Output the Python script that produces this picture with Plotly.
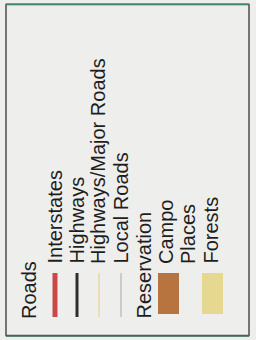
import plotly.graph_objects as go

# --- data ---
road_title = "Roads"
road_labels = ["Interstates", "Highways", "Highways/Major Roads", "Local Roads"]
road_colors = ["#c9484a", "#2e2e2e", "#ead7a8", "#a8a8a8"]
road_widths = [5, 3, 1.5, 1]
area_title = "Reservation"
area_labels = ["Campo", "Places", "Forests"]
area_colors = ["#b8743e", None, "#e7d891"]

# --- layout constants (pixel space) ---
W, H = 256, 340
FONT = "Liberation Sans, Arial, sans-serif"
col0 = 29
road_x = [54, 76, 98, 120]
res_x = 143
area_x = [166, 188, 210]
text_bottom = 266
title_bottom = 321
sym_top, sym_bot = 273, 317

fig = go.Figure()

def label(x, ybot, txt):
    fig.add_annotation(x=x, y=ybot, text=txt, textangle=-90, showarrow=False,
                       xanchor="center", yanchor="bottom", xref="x", yref="y",
                       font=dict(family=FONT, size=20, color="#1e1e1e"))

label(col0, title_bottom, road_title)
for x, t, c, w in zip(road_x, road_labels, road_colors, road_widths):
    label(x, text_bottom, t)
    fig.add_trace(go.Scatter(x=[x + 1, x + 1], y=[sym_top, sym_bot], mode="lines",
                             line=dict(color=c, width=w), hoverinfo="skip", showlegend=False))

label(res_x, title_bottom, area_title)
for x, t, c in zip(area_x, area_labels, area_colors):
    label(x, text_bottom, t)
    if c:
        fig.add_trace(go.Scatter(x=[x - 8, x + 13, x + 13, x - 8, x - 8],
                                 y=[sym_top, sym_top, sym_bot - 3, sym_bot - 3, sym_top],
                                 mode="lines", fill="toself", fillcolor=c,
                                 line=dict(width=0, color=c), hoverinfo="skip", showlegend=False))

# frame
fig.add_shape(type="rect", x0=6, x1=249, y0=4.5, y1=335.5, xref="x", yref="y",
              line=dict(color="#4d4d4d", width=1.5))
fig.add_shape(type="line", x0=6, x1=249, y0=4, y1=4, xref="x", yref="y",
              line=dict(color="#3f9a80", width=1.5))
fig.add_shape(type="line", x0=6, x1=249, y0=336, y1=336, xref="x", yref="y",
              line=dict(color="#3d6e5e", width=1.5))

fig.update_layout(width=W, height=H, margin=dict(l=0, r=0, t=0, b=0),
                  paper_bgcolor="#eeeeec", plot_bgcolor="#eeeeec",
                  xaxis=dict(range=[0, W], visible=False, fixedrange=True),
                  yaxis=dict(range=[H, 0], visible=False, fixedrange=True))
fig.write_html("out.html", config={"displayModeBar": False},
               post_script="document.body.style.margin='0';document.body.style.overflow='hidden';document.body.style.background='#eeeeec';")
